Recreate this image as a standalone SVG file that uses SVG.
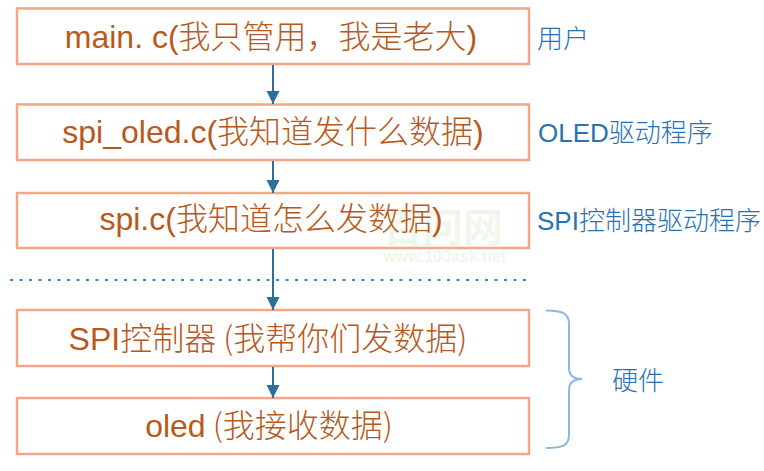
<svg xmlns="http://www.w3.org/2000/svg" width="764" height="471" viewBox="0 0 764 471">
<style>
.box{fill:#ffffff;stroke:#F4A688;stroke-width:2.5}
.t{font-family:"Liberation Sans","Noto Sans CJK SC",sans-serif;font-size:32px;font-weight:300;fill:#B8591C;text-anchor:middle}
.cjk{font-family:"Noto Sans CJK SC",sans-serif}
.lbl{font-family:"Liberation Sans","Noto Sans CJK SC",sans-serif;font-size:26px;font-weight:300;fill:#2872B2}
.wm{font-family:"Liberation Sans","Noto Sans CJK SC",sans-serif;font-weight:bold;fill:#F0F7EA}
.conn{stroke:#2C6E9E;stroke-width:2;fill:none}
</style>
<defs>
<marker id="ah" markerUnits="userSpaceOnUse" markerWidth="14" markerHeight="14" viewBox="0 0 14 14" refX="13" refY="7" orient="auto">
<path d="M0,0.5 L13,7 L0,13.5 Z" fill="#2C6E9E"/>
</marker>
</defs>
<rect width="764" height="471" fill="#ffffff"/>
<g id="node-main">
<rect class="box" x="17" y="8.5" width="512" height="55.5"/>
<text class="t" x="271" y="48">main. c(<tspan class="cjk">我只管用，我是老大</tspan>)</text>
</g>
<g id="node-spi-oled">
<rect class="box" x="17" y="104.5" width="512" height="55.5"/>
<text class="t" x="273" y="143">spi_oled.c(<tspan class="cjk">我知道发什么数据</tspan>)</text>
</g>
<g id="node-spi">
<rect class="box" x="17" y="193" width="512" height="55"/>
<g id="watermark">
<text class="wm" x="383" y="242" font-size="40">百问网</text>
<text class="wm" x="383" y="262" font-size="16">www.100ask.net</text>
</g>
<text class="t" x="271" y="230">spi.c(<tspan class="cjk">我知道怎么发数据</tspan>)</text>
</g>
<g id="node-spi-ctrl">
<rect class="box" x="17" y="310" width="512" height="56"/>
<text class="t" x="268" y="350">SPI<tspan class="cjk">控制器 (我帮你们发数据)</tspan></text>
</g>
<g id="node-oled">
<rect class="box" x="17" y="398" width="512" height="56"/>
<text class="t" x="269" y="437">oled<tspan class="cjk"> (我接收数据)</tspan></text>
</g>
<g id="connectors">
<line class="conn" x1="273" y1="65" x2="273" y2="104" marker-end="url(#ah)"/>
<line class="conn" x1="273" y1="161" x2="273" y2="193" marker-end="url(#ah)"/>
<line class="conn" x1="273" y1="249" x2="273" y2="310" marker-end="url(#ah)"/>
<line class="conn" x1="273" y1="367" x2="273" y2="398" marker-end="url(#ah)"/>
</g>
<line x1="10" y1="280" x2="531" y2="280" stroke="#2E8BD0" stroke-width="2" stroke-dasharray="3 6.5"/>
<g id="labels">
<text class="lbl" x="537" y="48"><tspan class="cjk">用户</tspan></text>
<text class="lbl" x="538" y="142">OLED<tspan class="cjk">驱动程序</tspan></text>
<text class="lbl" x="537" y="230">SPI<tspan class="cjk">控制器驱动程序</tspan></text>
<text class="lbl" x="612" y="390"><tspan class="cjk">硬件</tspan></text>
</g>
<g id="brace">
<path d="M546,310.5 C562,310.5 569,313 569,324 L569,368 C569,375 573,379 582,379 C573,379 569,383 569,390 L569,435 C569,446 562,448 546,448" fill="none" stroke="#8DB6E4" stroke-width="2"/>
</g>
</svg>
